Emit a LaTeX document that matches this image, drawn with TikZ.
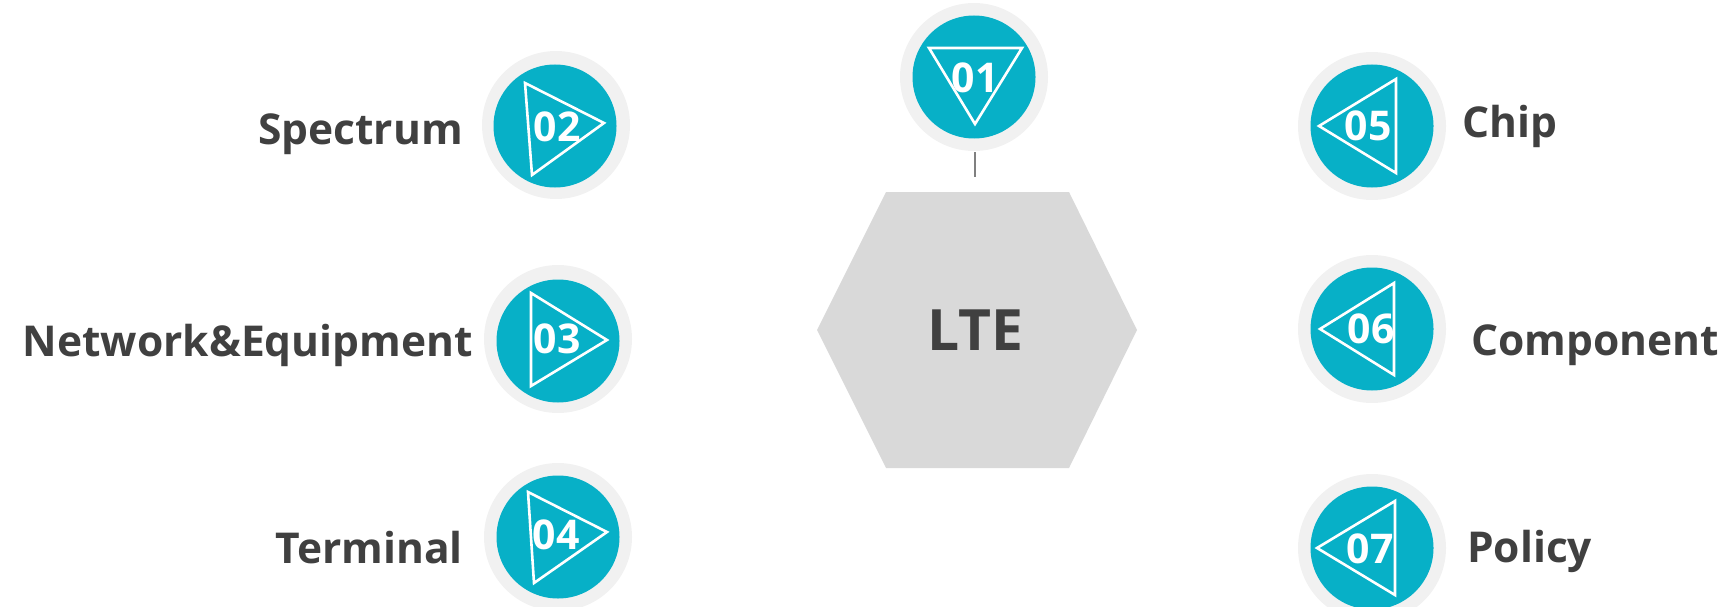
\documentclass[tikz,border=0pt]{standalone}
\usepackage{fontspec}
\setmainfont{Open Sans}
\definecolor{teal}{RGB}{7,176,199}
\definecolor{ringgray}{RGB}{241,241,241}
\definecolor{hexgray}{RGB}{217,217,217}
\definecolor{inkgray}{RGB}{64,64,64}
\definecolor{stemgray}{RGB}{128,128,128}
\begin{document}
\begin{tikzpicture}[x=1pt,y=-1pt,
  ring/.style={circle,fill=ringgray,minimum size=148pt,inner sep=0pt},
  disc/.style={circle,fill=teal,minimum size=123pt,inner sep=0pt},
  tri/.style={draw=white,line width=2.6pt,line join=miter},
  num/.style={text=white,font=\bfseries\fontsize{41}{44}\selectfont,inner sep=0pt},
  lbl/.style={text=inkgray,font=\bfseries\fontsize{42.5}{50}\selectfont,inner sep=0pt},
  stem/.style={draw=stemgray,line width=2.8pt}]
\useasboundingbox (0,0) rectangle (1731,607);

% central hexagon
\fill[hexgray] (886,192) -- (1069,192) -- (1137,330) -- (1069,468) -- (886,468) -- (817,330) -- cycle;
\node[text=inkgray,font=\bfseries\fontsize{57}{60}\selectfont,inner sep=0pt] (lte) at (975,330) {LTE};

% badge 01 above the hexagon
\node[ring] (r01) at (974,77) {};
\node[disc] (c01) at (974,77) {};
\draw[tri] (929,48) -- (1022,48) -- (975,124) -- cycle;
\node[num] (n01) at (975,78) {01};
\coordinate (stemtop) at (975,152);
\coordinate (stemend) at (975,177);
\draw[stem] (stemtop) -- (stemend);

% left badges
\node[ring] (r02) at (556,125) {};
\node[disc] (c02) at (555,126) {};
\draw[tri] (525,83) -- (532,175) -- (604,123) -- cycle;
\node[num] (n02) at (557,127) {02};

\node[ring] (r03) at (558,339) {};
\node[disc] (c03) at (558,341) {};
\draw[tri] (531,293) -- (531,386) -- (607,340) -- cycle;
\node[num] (n03) at (557,339) {03};

\node[ring] (r04) at (558,537) {};
\node[disc] (c04) at (558,537) {};
\draw[tri] (528,492) -- (534,583) -- (607,532) -- cycle;
\node[num] (n04) at (556,535) {04};

% right badges
\node[ring] (r05) at (1372,126) {};
\node[disc] (c05) at (1372,126) {};
\draw[tri] (1396,79) -- (1396,173) -- (1319,126) -- cycle;
\node[num] (n05) at (1368,126) {05};

\node[ring] (r06) at (1372,329) {};
\node[disc] (c06) at (1372,329) {};
\draw[tri] (1394,283) -- (1394,375) -- (1320,329) -- cycle;
\node[num] (n06) at (1371,329) {06};

\node[ring] (r07) at (1372,548) {};
\node[disc] (c07) at (1372,548) {};
\draw[tri] (1395,501) -- (1395,595) -- (1317,548) -- cycle;
\node[num] (n07) at (1370,549) {07};

% labels
\node[lbl,anchor=base east] (l02) at (463,145) {Spectrum};
\node[lbl,anchor=base east] (l03) at (473,356) {Network\&Equipment};
\node[lbl,anchor=base east] (l04) at (463,563) {Terminal};
\node[lbl,anchor=base west] (l05) at (1462,137) {Chip};
\node[lbl,anchor=base west] (l06) at (1471,355) {Component};
\node[lbl,anchor=base west] (l07) at (1467,562) {Policy};
\end{tikzpicture}
\end{document}
